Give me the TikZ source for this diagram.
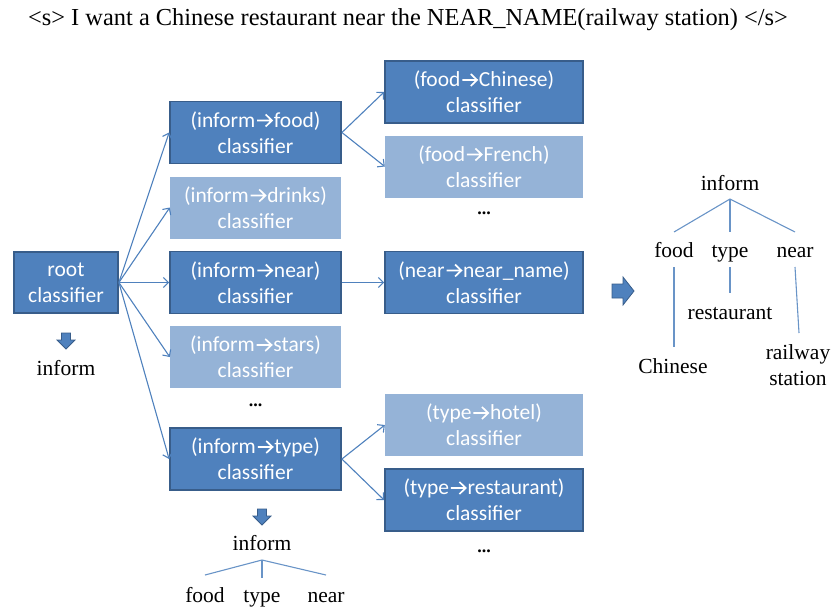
\documentclass[tikz,border=0pt]{standalone}
\usepackage{fontspec}
\setmainfont{Liberation Serif}
\newfontfamily\boxfont{Carlito}
\usetikzlibrary{arrows.meta}
\definecolor{darkfill}{HTML}{4F81BD}
\definecolor{darkedge}{HTML}{385D8A}
\definecolor{lightfill}{HTML}{95B3D7}
\definecolor{linecol}{HTML}{4F81BD}
\newcommand{\ar}{\hspace{1pt}\tikz[baseline=0pt]{\draw[white, line width=1.7pt, line cap=butt, line join=miter] (0pt,6.8pt) -- (14.5pt,6.8pt) (8.5pt,12.8pt) -- (14.8pt,6.8pt) -- (8.5pt,0.8pt);}\hspace{1pt}}
\tikzset{
  x=1pt, y=-1pt,
  darkbox/.style={draw=darkedge, line width=1.8pt, fill=darkfill, text=white, align=center,
    font=\boxfont\fontsize{21.5}{26}\selectfont, inner sep=0pt},
  lightbox/.style={fill=lightfill, text=white, align=center,
    font=\boxfont\fontsize{21.5}{26}\selectfont, inner sep=0pt},
  midbox/.style={minimum width=171pt, minimum height=62pt},
  rightbox/.style={minimum width=198pt, minimum height=62pt},
  conn/.style={draw=linecol, line width=1.1pt, -{Straight Barb[length=5pt,width=10pt]}},
  tline/.style={draw=linecol!85, line width=1.1pt},
  word/.style={font=\fontsize{21.5}{24}\selectfont, inner sep=0pt, text height=14pt, text depth=5pt, yshift=-3pt},
  dots/.style={font=\fontsize{18}{20}\selectfont\bfseries, inner sep=0pt},
  blockarrow/.style={fill=darkfill, draw=darkedge, line width=0.8pt},
}
\begin{document}
\begin{tikzpicture}
\useasboundingbox (0,0) rectangle (834,606);
\node[font=\fontsize{24.4}{28}\selectfont, inner sep=0pt] (title) at (408,20) {<s> I want a Chinese restaurant near the NEAR\_NAME(railway station) </s>};

\node[darkbox, minimum width=104pt, minimum height=61pt] (root) at (66,282.5) {root\\classifier};
\node[darkbox, midbox] (ifood) at (255.5,132.5) {(inform\ar food)\\classifier};
\node[lightbox, midbox] (idrinks) at (255.5,207.5) {(inform\ar drinks)\\classifier};
\node[darkbox, midbox] (inear) at (255.5,282.5) {(inform\ar near)\\classifier};
\node[lightbox, midbox] (istars) at (255.5,357) {(inform\ar stars)\\classifier};
\node[dots] (mdots) at (255.5,405) {...};
\node[darkbox, midbox] (itype) at (255.5,459) {(inform\ar type)\\classifier};

\node[darkbox, rightbox] (fchinese) at (484,92) {(food\ar Chinese)\\classifier};
\node[lightbox, rightbox] (ffrench) at (484,166.5) {(food\ar French)\\classifier};
\node[dots] (fdots) at (484,213) {...};
\node[darkbox, rightbox] (nname) at (484,282.5) {(near\ar near\_name)\\classifier};
\node[lightbox, rightbox] (thotel) at (484,425) {(type\ar hotel)\\classifier};
\node[darkbox, rightbox] (trest) at (484,500) {(type\ar restaurant)\\classifier};
\node[dots] (tdots) at (484,551) {...};

\foreach \t in {ifood,idrinks,inear,istars,itype}
  \draw[conn] (root.east) -- (\t.west);
\draw[conn] (ifood.east) -- (fchinese.west);
\draw[conn] (ifood.east) -- (ffrench.west);
\draw[conn] (inear.east) -- (nname.west);
\draw[conn] (itype.east) -- (thotel.west);
\draw[conn] (itype.east) -- (trest.west);

% block arrows
\draw[blockarrow] (61.5,333) -- (70.5,333) -- (70.5,340) -- (75,340) -- (66,349) -- (57,340) -- (61.5,340) -- cycle;
\draw[blockarrow] (257.5,509) -- (266.5,509) -- (266.5,516) -- (271,516) -- (262,525) -- (253,516) -- (257.5,516) -- cycle;
\draw[blockarrow] (612,284) -- (623,284) -- (623,277) -- (634,291) -- (623,305) -- (623,298) -- (612,298) -- cycle;

\node[word] (rinform) at (66,368) {inform};

% bottom tree
\node[word] (binform) at (262,543) {inform};
\coordinate (bj) at (262,560);
\node[word] (bfood) at (205,595) {food};
\node[word] (btype) at (262,595) {type};
\node[word] (bnear) at (326,595) {near};
\draw[tline] (205,575) -- (bj) -- (326,575);
\draw[tline] (bj) -- (262,578);

% right tree
\node[word] (tinform) at (730,183) {inform};
\coordinate (tj) at (730,199);
\node[word] (tfood) at (674,250) {food};
\node[word] (ttype) at (730,250) {type};
\node[word] (tnear) at (795,250) {near};
\draw[tline] (674,232) -- (tj) -- (795,232);
\draw[tline] (tj) -- (730,232);
\node[word] (tchinese) at (673,366) {Chinese};
\node[word] (trestw) at (730,312) {restaurant};
\node[word] (trail1) at (798,352) {railway};
\node[word] (trail2) at (798,378) {station};
\draw[tline] (674,267) -- (674,347);
\draw[tline] (730,267) -- (730,293);
\draw[tline] (795,267) -- (799,333);
\end{tikzpicture}
\end{document}
